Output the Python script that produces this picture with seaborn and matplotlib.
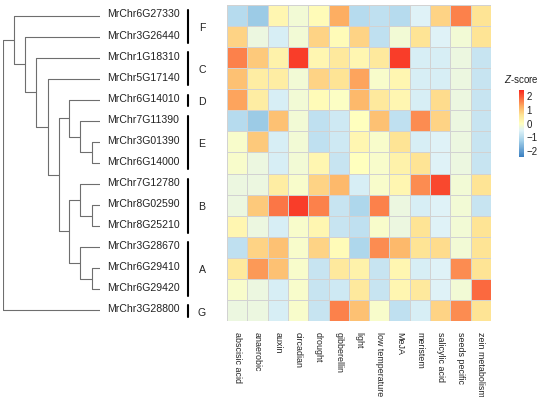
import pandas as pd
import seaborn as sns
import matplotlib.pyplot as plt
from matplotlib.colors import LinearSegmentedColormap
from matplotlib.transforms import blended_transform_factory

genes = ["MrChr6G27330", "MrChr3G26440", "MrChr1G18310", "MrChr5G17140",
         "MrChr6G14010", "MrChr7G11390", "MrChr3G01390", "MrChr6G14000",
         "MrChr7G12780", "MrChr8G02590", "MrChr8G25210", "MrChr3G28670",
         "MrChr6G29410", "MrChr6G29420", "MrChr3G28800"]

conditions = ["abscisic acid", "anaerobic", "auxin", "circadian", "drought",
              "gibberellin", "light", "low temperature", "MeJA", "meristem",
              "salicylic acid", "seeds pecific", "zein metabolism"]

# group name, first row, last row
groups = [("F", 0, 1), ("C", 2, 3), ("D", 4, 4), ("E", 5, 7),
          ("B", 8, 10), ("A", 11, 13), ("G", 14, 14)]

zscores = [
    [-1.0, -1.3, 0.2, -0.2, 0.1, 1.2, -1.0, -0.9, -1.0, -0.5, 0.8, 1.6, 0.6],
    [0.8, -0.3, -0.6, -0.2, 0.8, 0.1, 0.8, -0.9, -0.2, 0.6, -0.5, -0.2, 0.6],
    [1.6, 0.9, 0.3, 2.2, 0.2, 0.5, 0.2, 0.5, 2.2, -0.6, -0.6, -0.3, -0.8],
    [1.0, 0.4, 0.4, -0.2, 0.8, 0.6, 1.3, -0.1, 0.2, -0.6, -0.6, -0.3, -0.8],
    [1.3, 0.4, -0.6, -0.2, 0.1, -0.05, 1.1, 0.5, 0.2, -0.6, 0.7, -0.3, -0.8],
    [-1.0, -1.3, 1.0, -0.2, -0.9, -0.7, 0.0, 1.0, -0.9, 1.5, 0.8, -0.3, -0.8],
    [-0.1, 0.9, -0.6, -0.2, -0.9, -0.7, 0.2, -0.1, 0.6, -0.6, -0.5, -0.3, -0.8],
    [-0.1, -0.3, -0.6, -0.2, 0.2, -0.8, 0.0, -0.1, 0.3, 0.6, -0.5, -0.3, -0.8],
    [-0.3, -0.3, 0.4, -0.1, 0.8, 1.1, -0.6, -0.1, 0.2, 1.5, 2.1, -0.2, 0.6],
    [-0.3, 0.9, 1.7, 2.2, 1.6, -0.8, -1.1, 1.6, -0.3, -0.6, -0.5, -0.2, -0.8],
    [0.2, -0.3, -0.6, -0.1, 0.2, -0.8, -0.9, -0.1, -0.3, 0.6, -0.5, -0.2, 0.6],
    [-0.9, 0.8, 1.0, -0.1, 0.8, 0.1, -1.1, 1.5, 1.1, 0.6, 0.7, -0.2, 0.6],
    [0.5, 1.4, 1.0, -0.1, -0.8, 0.5, 0.3, -0.8, 0.2, -0.6, -0.5, 1.5, 0.6],
    [-0.1, -0.3, -0.6, -0.1, -0.8, -0.7, 0.5, -0.8, 0.2, 0.5, -0.5, -0.2, 1.8],
    [-0.3, -0.3, -0.6, -0.1, -0.8, 1.6, 1.0, -0.1, -0.9, -0.6, 0.8, 1.5, 0.6],
]

# tree merges: (child a, child b, height); leaves are 0..14, new nodes 15..
merges = [
    (6, 7, 8), (9, 10, 8), (12, 13, 8),
    (5, 15, 20), (8, 16, 20), (11, 17, 20),
    (4, 18, 31), (19, 20, 31), (21, 22, 41),
    (3, 23, 52), (2, 24, 64), (1, 25, 75),
    (0, 26, 86), (27, 14, 97),
]

sns.set_style("white")
plt.rcParams['font.family'] = ['Liberation Sans', 'DejaVu Sans']
plt.rcParams['mathtext.fontset'] = 'custom'
plt.rcParams['mathtext.it'] = 'Liberation Sans:italic'
plt.rcParams['mathtext.rm'] = 'Liberation Sans'

W, H = 550, 397
fig = plt.figure(figsize=(W / 100, H / 100), dpi=100)

def px_axes(x0, y0, x1, y1):
    return fig.add_axes([x0 / W, 1 - y1 / H, (x1 - x0) / W, (y1 - y0) / H])

ax_heat = px_axes(227, 5, 491, 321)
ax_tree = px_axes(3, 5, 100, 321)
cax = px_axes(519, 90, 524, 157)

cmap = LinearSegmentedColormap.from_list("zs", [
    (0.0, "#3A7FC1"), (0.25, "#A6D2EA"), (0.396, "#DFF2F7"), (0.5, "#FFFFBF"),
    (0.625, "#FEE596"), (0.75, "#FDB063"), (0.875, "#FB6B40"), (1.0, "#F8281E")])

df = pd.DataFrame(zscores, index=genes, columns=conditions)
sns.heatmap(df, ax=ax_heat, cmap=cmap, vmin=-2.4, vmax=2.4,
            linewidths=0.7, linecolor="#D2D2D2", cbar_ax=cax,
            xticklabels=True, yticklabels=False)
ax_heat.tick_params(axis='x', length=0, pad=8, labelsize=6.4, labelcolor="#222222")
for lab in ax_heat.get_xticklabels():
    lab.set_rotation(270)
    lab.set_va('top')
    lab.set_ha('center')

# colorbar
cax.set_yticks([-2, -1, 0, 1, 2])
cax.tick_params(length=0, labelsize=7, pad=2, labelcolor="#222222")
for s in cax.spines.values():
    s.set_visible(False)
cax.set_title(r"$\it{Z}$-score", fontsize=7, pad=5, color="#222222")

# dendrogram
ypos = {i: i + 0.5 for i in range(len(genes))}
hgt = {i: 0 for i in range(len(genes))}
for k, (a, b, h) in enumerate(merges):
    node = len(genes) + k
    ax_tree.plot([hgt[a], h, h, hgt[b]], [ypos[a], ypos[a], ypos[b], ypos[b]],
                 color="#6E6E6E", lw=0.8, solid_capstyle='butt')
    ypos[node] = (ypos[a] + ypos[b]) / 2
    hgt[node] = h
ax_tree.set_xlim(97, 0)
ax_tree.set_ylim(len(genes), 0)
ax_tree.axis('off')

# gene names and group bars
tr = blended_transform_factory(fig.transFigure, ax_heat.transData)
for i, g in enumerate(genes):
    ax_heat.text(107 / W, i + 0.45, g, transform=tr, fontsize=7.6,
                 va='center', ha='left', color="#222222")
for name, first, last in groups:
    ax_heat.plot([187.6 / W, 187.6 / W], [first + 0.25, last + 0.8], transform=tr,
                 color="black", lw=1.5, clip_on=False)
    ax_heat.text(202 / W, (first + last + 1) / 2 + 0.1, name, transform=tr,
                 fontsize=7.6, va='center', ha='center', color="#222222")

plt.savefig("out.png", dpi=100)
